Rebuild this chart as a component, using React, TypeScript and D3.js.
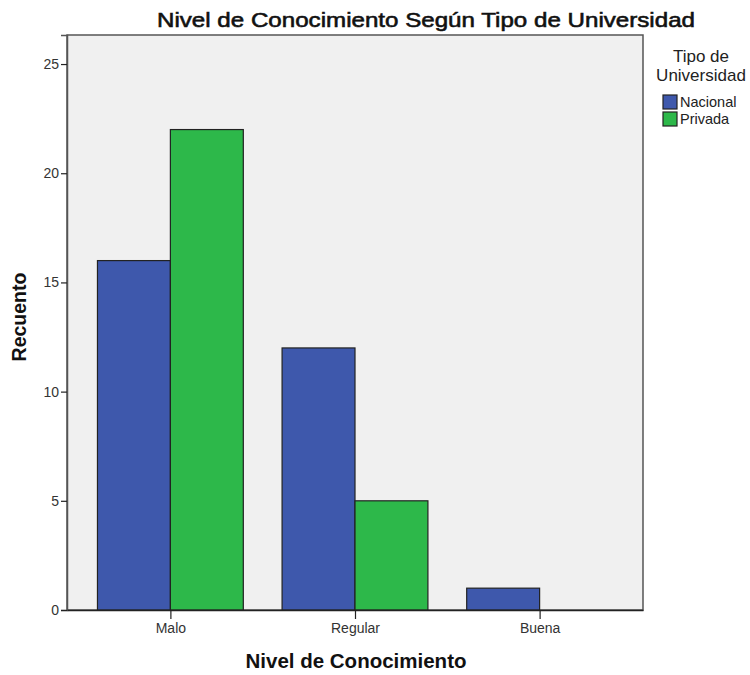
import { useEffect, useRef } from "react";
import * as d3 from "d3";

const categories = ["Malo", "Regular", "Buena"];
const series = ["Nacional", "Privada"];
const nacional = [16, 12, 1];
const privada = [22, 5, 0];
const yTicks = [0, 5, 10, 15, 20, 25];
const colors = ["#3E58AC", "#2DB84A"];

export default function App() {
    const ref = useRef<SVGSVGElement | null>(null);

    useEffect(() => {
        const width = 750;
        const height = 675;
        const margin = { top: 35, right: 107, bottom: 65, left: 67 };
        const svg = d3.select(ref.current);
        svg.selectAll("*").remove();

        const font = "'Liberation Sans', Arial, sans-serif";

        const x = d3
            .scalePoint<string>()
            .domain(categories)
            .range([margin.left, width - margin.right])
            .padding(0.56);
        const step = x.step();
        const barW = step * 0.395;

        const y = d3
            .scaleLinear()
            .domain([0, 26.33])
            .range([height - margin.bottom, margin.top]);

        // plot background
        svg.append("rect")
            .attr("x", margin.left)
            .attr("y", margin.top)
            .attr("width", width - margin.left - margin.right)
            .attr("height", height - margin.top - margin.bottom)
            .attr("fill", "#F0F0F0")
            .attr("stroke", "#555")
            .attr("stroke-width", 1.5);

        const values = [nacional, privada];
        series.forEach((s, si) => {
            svg.append("g")
                .selectAll("rect")
                .data(categories)
                .join("rect")
                .attr("x", (c) => (x(c) ?? 0) - barW + si * barW)
                .attr("y", (c, i) => y(values[si][i]))
                .attr("width", barW)
                .attr("height", (c, i) => y(0) - y(values[si][i]))
                .attr("fill", colors[si])
                .attr("stroke", "#222")
                .attr("stroke-width", 1.2)
                .attr("display", (c, i) => (values[si][i] > 0 ? null : "none"));
        });

        // y axis
        const yAxis = svg
            .append("g")
            .attr("transform", `translate(${margin.left},0)`)
            .call(d3.axisLeft(y).tickValues(yTicks).tickSize(6).tickPadding(2));
        yAxis.select(".domain").attr("stroke", "#555").attr("stroke-width", 1.5);
        yAxis.selectAll(".tick line").attr("stroke", "#222").attr("stroke-width", 1.2);
        yAxis
            .selectAll(".tick text")
            .attr("font-family", font)
            .attr("font-size", 14)
            .attr("fill", "#333");

        // x axis
        const xAxis = svg
            .append("g")
            .attr("transform", `translate(0,${height - margin.bottom})`)
            .call(d3.axisBottom(x).tickSize(9).tickPadding(4).tickSizeOuter(0));
        xAxis.select(".domain").attr("stroke", "#222").attr("stroke-width", 1.5);
        xAxis.selectAll(".tick line").attr("stroke", "#222").attr("stroke-width", 1.2);
        xAxis
            .selectAll(".tick text")
            .attr("font-family", font)
            .attr("font-size", 14)
            .attr("fill", "#333");

        // title
        svg.append("text")
            .attr("x", 157)
            .attr("y", 27)
            .attr("font-family", font)
            .attr("font-size", 21)
            .attr("textLength", 538)
            .attr("lengthAdjust", "spacingAndGlyphs")
            .attr("fill", "#111")
            .attr("stroke", "#111")
            .attr("stroke-width", 0.6)
            .text("Nivel de Conocimiento Según Tipo de Universidad");

        // axis titles
        svg.append("text")
            .attr("x", 356)
            .attr("y", 668)
            .attr("text-anchor", "middle")
            .attr("font-family", font)
            .attr("font-size", 20.5)
            .attr("font-weight", "bold")
            .attr("fill", "#111")
            .text("Nivel de Conocimiento");

        svg.append("text")
            .attr("transform", `translate(26,317) rotate(-90)`)
            .attr("text-anchor", "middle")
            .attr("font-family", font)
            .attr("font-size", 19.5)
            .attr("font-weight", "bold")
            .attr("fill", "#111")
            .text("Recuento");

        // legend
        const lg = svg.append("g");
        lg.append("text")
            .attr("x", 701)
            .attr("y", 62)
            .attr("text-anchor", "middle")
            .attr("font-family", font)
            .attr("font-size", 17)
            .attr("fill", "#222")
            .text("Tipo de");
        lg.append("text")
            .attr("x", 701)
            .attr("y", 81)
            .attr("text-anchor", "middle")
            .attr("font-family", font)
            .attr("font-size", 17)
            .attr("fill", "#222")
            .text("Universidad");
        series.forEach((s, i) => {
            lg.append("rect")
                .attr("x", 663)
                .attr("y", 95 + i * 17)
                .attr("width", 14)
                .attr("height", 14)
                .attr("fill", colors[i])
                .attr("stroke", "#222")
                .attr("stroke-width", 1.2);
            lg.append("text")
                .attr("x", 680)
                .attr("y", 107 + i * 17)
                .attr("font-family", font)
                .attr("font-size", 14.5)
                .attr("fill", "#222")
                .text(s);
        });
    }, []);

    return (
        <svg
            ref={ref}
            width={750}
            height={675}
            style={{ display: "block", position: "absolute", left: 0, top: 0, background: "#fff" }}
        />
    );
}
